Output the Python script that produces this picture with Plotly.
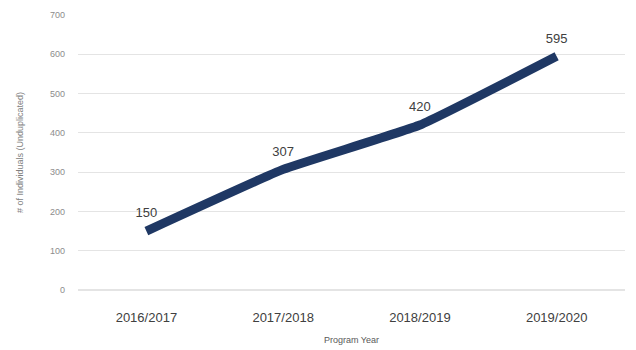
import plotly.graph_objects as go

years = ["2016/2017", "2017/2018", "2018/2019", "2019/2020"]
individuals = [150, 307, 420, 595]
y_ticks = [0, 100, 200, 300, 400, 500, 600, 700]

fig = go.Figure()
fig.add_trace(go.Scatter(
    x=years,
    y=individuals,
    mode="lines+markers+text",
    line=dict(color="#1F3864", width=9, shape="spline", smoothing=0.35),
    # transparent markers give the labels some clearance above the thick line
    marker=dict(size=15, color="rgba(0,0,0,0)"),
    text=[str(v) for v in individuals],
    textposition="top center",
    textfont=dict(family="Liberation Sans, Arial", size=13, color="#404040"),
    cliponaxis=False,
    hoverinfo="x+y",
))

fig.update_layout(
    width=636,
    height=350,
    margin=dict(l=78, r=11, t=15, b=60),
    paper_bgcolor="white",
    plot_bgcolor="white",
    showlegend=False,
    font=dict(family="Liberation Sans, Arial", color="#595959"),
    xaxis=dict(
        type="category",
        range=[-0.5, 3.5],
        automargin=False,
        showgrid=False,
        showline=False,
        ticks="",
        tickfont=dict(size=13, color="#404040"),
        ticklabelstandoff=18,
        title=dict(text="Program Year", font=dict(size=9, color="#595959"), standoff=12),
    ),
    yaxis=dict(
        range=[0, 700],
        tickvals=y_ticks,
        automargin=False,
        showgrid=True,
        gridcolor="#E4E4E4",
        gridwidth=1,
        zeroline=True,
        zerolinecolor="#E4E4E4",
        showline=False,
        ticks="",
        tickfont=dict(size=9, color="#8C8C8C"),
        ticklabelstandoff=12,
        title=dict(text="# of Individuals (Unduplicated)", font=dict(size=9, color="#7F7F7F"), standoff=24),
    ),
)

fig.write_html("out.html")
